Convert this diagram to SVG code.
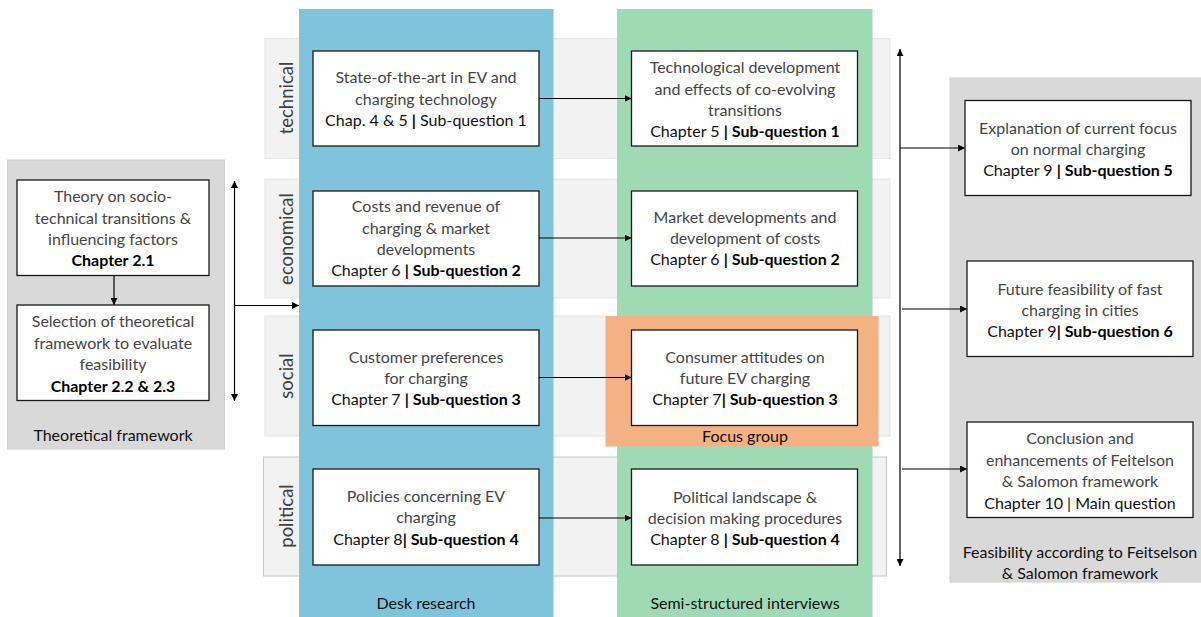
<svg xmlns="http://www.w3.org/2000/svg" width="1201" height="617" viewBox="0 0 1201 617">
<defs>
<marker id="ah" viewBox="0 0 10 10" refX="10" refY="5" markerWidth="7" markerHeight="7" markerUnits="userSpaceOnUse" orient="auto-start-reverse">
<path d="M0,0 L10,5 L0,10 z" fill="#000"/>
</marker>
<style>
text{font-family:Lato,"Open Sans","Liberation Sans",sans-serif;font-size:16px;text-anchor:middle}
.l{fill:#454545;font-weight:400}
.r{fill:#111;font-weight:400}
.b{font-weight:700;fill:#000}
.box{fill:#fff;stroke:#1a1a1a;stroke-width:1.3}
.band{fill:#f2f2f2;stroke:#e6e6e6;stroke-width:1}
.panel{fill:#d9d9d9;stroke:#cfcfcf;stroke-width:1}
.rot{font-size:18.5px;fill:#404040;font-weight:400}
.con{stroke:#000;stroke-width:1.2;fill:none}
</style>
</defs>
<rect width="1201" height="617" fill="#fff"/>

<g id="bands">
<rect class="band" x="265" y="38.5" width="625" height="120"/>
<rect class="band" x="265" y="179" width="625" height="119"/>
<rect class="band" x="265" y="316" width="625" height="120"/>
<rect class="band" x="263.5" y="457" width="623" height="119" style="stroke:#c8c8c8"/>
<text class="rot" transform="translate(293,98) rotate(-90)">technical</text>
<text class="rot" transform="translate(293,239) rotate(-90)">economical</text>
<text class="rot" transform="translate(293,376) rotate(-90)">social</text>
<text class="rot" transform="translate(293,516) rotate(-90)">political</text>
</g>

<g id="desk-research">
<rect x="299" y="9" width="254.5" height="608" fill="#7fc4db"/>
<text class="r" x="426" y="608.5">Desk research</text>
</g>
<g id="interviews">
<rect x="617" y="9" width="255.5" height="608" fill="#a0dab5"/>
<text class="r" x="745" y="608.5">Semi-structured interviews</text>
</g>
<g id="focus-group">
<rect x="605.5" y="316" width="273" height="130.5" fill="#f4b183"/>
<text class="r" x="745" y="441.5">Focus group</text>
</g>

<g id="theoretical-framework">
<rect class="panel" x="7.5" y="160" width="217" height="289"/>
<text class="r" x="113" y="440.5">Theoretical framework</text>
</g>
<g id="feasibility-framework">
<rect class="panel" x="950" y="78" width="252" height="504"/>
<text class="r" x="1080" y="558">Feasibility according to Feitselson</text>
<text class="r" x="1080" y="578.5">&amp; Salomon framework</text>
</g>

<g id="connectors">
<line class="con" x1="114" y1="276" x2="114" y2="305" marker-end="url(#ah)"/>
<line class="con" x1="234.5" y1="181" x2="234.5" y2="401" marker-start="url(#ah)" marker-end="url(#ah)"/>
<line class="con" x1="234.5" y1="305.5" x2="299" y2="305.5" marker-end="url(#ah)"/>
<line class="con" x1="539" y1="98.5" x2="631.5" y2="98.5" marker-end="url(#ah)"/>
<line class="con" x1="539" y1="238" x2="631.5" y2="238" marker-end="url(#ah)"/>
<line class="con" x1="539" y1="377.5" x2="631.5" y2="377.5" marker-end="url(#ah)"/>
<line class="con" x1="539" y1="518" x2="631.5" y2="518" marker-end="url(#ah)"/>
<line class="con" x1="900" y1="49" x2="900" y2="566" marker-start="url(#ah)" marker-end="url(#ah)"/>
<line class="con" x1="900" y1="148" x2="965" y2="148" marker-end="url(#ah)"/>
<line class="con" x1="902" y1="309" x2="967" y2="309" marker-end="url(#ah)"/>
<line class="con" x1="902" y1="469" x2="967" y2="469" marker-end="url(#ah)"/>
</g>

<g id="theory">
<rect class="box" x="17" y="180" width="192" height="95.5"/>
<text class="l" x="113" y="202">Theory on socio-</text>
<text class="l" x="113" y="223.5">technical transitions &amp;</text>
<text class="l" x="113" y="244.5">influencing factors</text>
<text class="b" x="113" y="265.5">Chapter 2.1</text>
</g>
<g id="selection">
<rect class="box" x="17" y="305" width="192" height="95.5"/>
<text class="l" x="113" y="327">Selection of theoretical</text>
<text class="l" x="113" y="348.5">framework to evaluate</text>
<text class="l" x="113" y="369.5">feasibility</text>
<text class="b" x="113" y="391.5">Chapter 2.2 &amp; 2.3</text>
</g>

<g id="state-of-the-art">
<rect class="box" x="313" y="51" width="226" height="95"/>
<text class="l" x="426" y="83">State-of-the-art in EV and</text>
<text class="l" x="426" y="104.5">charging technology</text>
<text class="r" x="426" y="126">Chap. 4 &amp; 5 <tspan class="b">|</tspan> Sub-question 1</text>
</g>
<g id="costs">
<rect class="box" x="313" y="191" width="226" height="95"/>
<text class="l" x="426" y="212">Costs and revenue of</text>
<text class="l" x="426" y="233.5">charging &amp; market</text>
<text class="l" x="426" y="255">developments</text>
<text class="r" x="426" y="276">Chapter 6 <tspan class="b">| Sub-question 2</tspan></text>
</g>
<g id="customer">
<rect class="box" x="313" y="330" width="226" height="95.5"/>
<text class="l" x="426" y="362.5">Customer preferences</text>
<text class="l" x="426" y="383.5">for charging</text>
<text class="r" x="426" y="404.5">Chapter 7 <tspan class="b">| Sub-question 3</tspan></text>
</g>
<g id="policies">
<rect class="box" x="313" y="469" width="226" height="96"/>
<text class="l" x="426" y="502">Policies concerning EV</text>
<text class="l" x="426" y="523">charging</text>
<text class="r" x="426" y="544.5">Chapter 8<tspan class="b">| Sub-question 4</tspan></text>
</g>

<g id="technological">
<rect class="box" x="631.5" y="51" width="226" height="95"/>
<text class="l" x="745" y="73">Technological development</text>
<text class="l" x="745" y="94.5">and effects of co-evolving</text>
<text class="l" x="745" y="116">transitions</text>
<text class="r" x="745" y="137">Chapter 5 <tspan class="b">| Sub-question 1</tspan></text>
</g>
<g id="market">
<rect class="box" x="631.5" y="191" width="226" height="95"/>
<text class="l" x="745" y="222.5">Market developments and</text>
<text class="l" x="745" y="244">development of costs</text>
<text class="r" x="745" y="265">Chapter 6 <tspan class="b">| Sub-question 2</tspan></text>
</g>
<g id="consumer">
<rect class="box" x="631.5" y="330" width="226" height="95.5"/>
<text class="l" x="745" y="362.5">Consumer attitudes on</text>
<text class="l" x="745" y="383.5">future EV charging</text>
<text class="r" x="745" y="404.5">Chapter 7<tspan class="b">| Sub-question 3</tspan></text>
</g>
<g id="political-landscape">
<rect class="box" x="631.5" y="469" width="226" height="96"/>
<text class="l" x="745" y="502.5">Political landscape &amp;</text>
<text class="l" x="745" y="523.5">decision making procedures</text>
<text class="r" x="745" y="545">Chapter 8 <tspan class="b">| Sub-question 4</tspan></text>
</g>

<g id="explanation">
<rect class="box" x="965" y="100.5" width="226" height="95"/>
<text class="l" x="1078" y="133.5">Explanation of current focus</text>
<text class="l" x="1078" y="155">on normal charging</text>
<text class="r" x="1078" y="176">Chapter 9 <tspan class="b">| Sub-question 5</tspan></text>
</g>
<g id="future">
<rect class="box" x="967" y="261" width="226" height="95.5"/>
<text class="l" x="1080" y="294.5">Future feasibility of fast</text>
<text class="l" x="1080" y="316">charging in cities</text>
<text class="r" x="1080" y="337">Chapter 9<tspan class="b">| Sub-question 6</tspan></text>
</g>
<g id="conclusion">
<rect class="box" x="967" y="422" width="226" height="95.5"/>
<text class="l" x="1080" y="444">Conclusion and</text>
<text class="l" x="1080" y="466">enhancements of Feitelson</text>
<text class="l" x="1080" y="487">&amp; Salomon framework</text>
<text class="r" x="1080" y="508.5">Chapter 10 | Main question</text>
</g>
</svg>
